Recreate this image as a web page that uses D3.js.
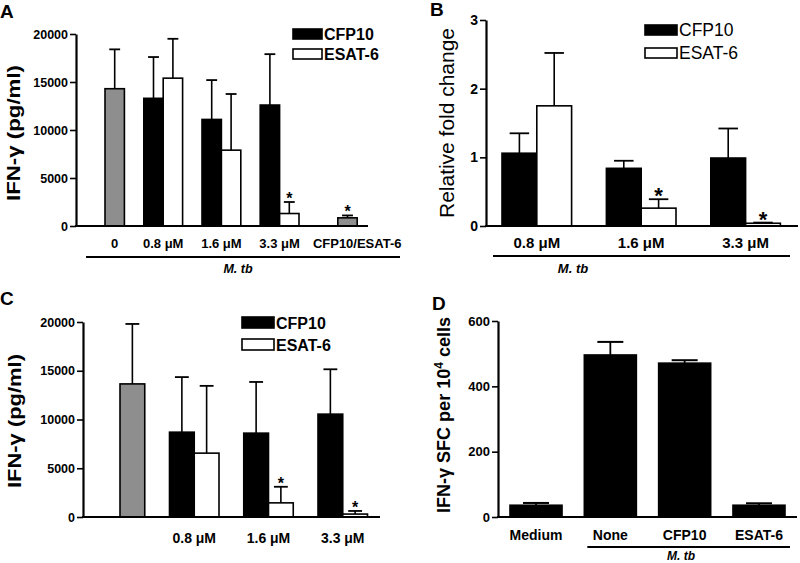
<!DOCTYPE html>
<html><head><meta charset="utf-8">
<script src="https://cdn.jsdelivr.net/npm/d3@7"></script>
<style>
body{margin:0;background:#fff}
svg{display:block}
text{font-family:"Liberation Sans",Arial,Helvetica,sans-serif;fill:#000}
</style>
</head><body>
<svg id="chart" width="800" height="563"></svg>
<script>
// ================= DATA =================
// Panel A – IFN-γ (pg/ml), mean and SD
const aGroups    = ["0", "0.8 μM", "1.6 μM", "3.3 μM", "CFP10/ESAT-6"];
const aControl   = [14300, null, null, null, 850];
const aControlSD = [4100, null, null, null, 250];
const aControlSig= [false, false, false, false, true];
const aCFP10     = [null, 13300, 11100, 12600, null];
const aCFP10SD   = [null, 4300, 4100, 5300, null];
const aESAT6     = [null, 15400, 7900, 1300, null];
const aESAT6SD   = [null, 4100, 5850, 1200, null];
const aESAT6Sig  = [false, false, false, true, false];
const aTicks     = [0, 5000, 10000, 15000, 20000];

// Panel B – relative fold change
const bGroups    = ["0.8 μM", "1.6 μM", "3.3 μM"];
const bCFP10     = [1.06, 0.84, 0.99];
const bCFP10SD   = [0.29, 0.11, 0.43];
const bESAT6     = [1.75, 0.26, 0.04];
const bESAT6SD   = [0.77, 0.13, 0.01];
const bESAT6Sig  = [false, true, true];
const bTicks     = [0, 1, 2, 3];

// Panel C – IFN-γ (pg/ml)
const cGroups    = ["", "0.8 μM", "1.6 μM", "3.3 μM"];
const cControl   = [13650, null, null, null];
const cControlSD = [6150, null, null, null];
const cCFP10     = [null, 8700, 8600, 10550];
const cCFP10SD   = [null, 5650, 5250, 4600];
const cESAT6     = [null, 6550, 1450, 300];
const cESAT6SD   = [null, 6900, 1650, 320];
const cESAT6Sig  = [false, false, true, true];
const cTicks     = [0, 5000, 10000, 15000, 20000];

// Panel D – IFN-γ SFC per 10^4 cells
const dGroups    = ["Medium", "None", "CFP10", "ESAT-6"];
const dValues    = [36, 496, 471, 36];
const dSD        = [7, 40, 9, 6];
const dTicks     = [0, 200, 400, 600];

const legendNames = ["CFP10", "ESAT-6"];
const FILL = {control: "#8e8e8e", CFP10: "#000000", ESAT6: "#ffffff"};

// ================= DRAW =================
const svg = d3.select("#chart");

function buildBars(groups, seriesList, groupStart) {
  const bars = [];
  groups.forEach((g, gi) => {
    let pos = 0;
    seriesList.forEach(s => {
      if (s.vals[gi] != null) {
        bars.push({group: g, gi, key: s.key, v: s.vals[gi], sd: s.sd[gi],
                   sig: s.sig ? s.sig[gi] : false, slot: groupStart[gi] + pos});
        pos++;
      }
    });
  });
  return bars;
}

function styleAxis(ax, font) {
  ax.select(".domain").attr("stroke", "#000").attr("stroke-width", 2.2);
  ax.selectAll(".tick line").attr("stroke", "#000").attr("stroke-width", 1.6);
  ax.selectAll(".tick text").attr("font-size", font).attr("font-weight", "bold")
    .attr("font-family", "'Liberation Sans',Arial,sans-serif").attr("fill", "#000");
}

function drawPanel(o) {
  const g = svg.append("g");
  const y = d3.scaleLinear().domain(o.yDomain).range(o.yRange);
  const x = d3.scaleBand().domain(d3.range(o.nSlots)).range(o.xRange).padding(0);
  const bw = x.bandwidth();

  const ax = g.append("g").attr("transform", `translate(${o.axisX},0)`)
    .call(d3.axisLeft(y).tickValues(o.ticks).tickSize(6).tickSizeOuter(0).tickPadding(2)
      .tickFormat(d3.format("d")));
  styleAxis(ax, o.tickFont);

  g.selectAll("rect.bar").data(o.bars).join("rect")
    .attr("x", d => x(d.slot)).attr("width", bw)
    .attr("y", d => y(d.v)).attr("height", d => y(0) - y(d.v))
    .attr("fill", d => FILL[d.key]).attr("stroke", "#000").attr("stroke-width", 1.6);

  const eg = g.selectAll("g.err").data(o.bars).join("g");
  eg.append("line")
    .attr("x1", d => x(d.slot) + bw / 2).attr("x2", d => x(d.slot) + bw / 2)
    .attr("y1", d => y(d.v)).attr("y2", d => y(d.v + d.sd))
    .attr("stroke", "#000").attr("stroke-width", 1.6);
  eg.append("line")
    .attr("x1", d => x(d.slot) + bw / 2 - bw * o.cap).attr("x2", d => x(d.slot) + bw / 2 + bw * o.cap)
    .attr("y1", d => y(d.v + d.sd)).attr("y2", d => y(d.v + d.sd))
    .attr("stroke", "#000").attr("stroke-width", 1.8);

  g.selectAll("text.star").data(o.bars.filter(d => d.sig)).join("text")
    .attr("x", d => x(d.slot) + bw / 2).attr("y", d => y(d.v + d.sd) + o.starDy)
    .attr("text-anchor", "middle").attr("font-size", o.starFont).attr("font-weight", "bold")
    .text("*");

  g.append("line").attr("x1", o.axisX - 1).attr("x2", o.xEnd)
    .attr("y1", y(0)).attr("y2", y(0)).attr("stroke", "#000").attr("stroke-width", 2.2);

  g.selectAll("text.cat").data(o.labels).join("text")
    .attr("x", d => d.cx(x, bw)).attr("y", o.labelY)
    .attr("text-anchor", "middle").attr("font-size", o.labelFont).attr("font-weight", "bold")
    .text(d => d.text);

  if (o.bracket) {
    g.append("line").attr("x1", o.bracket.x1).attr("x2", o.bracket.x2)
      .attr("y1", o.bracket.y).attr("y2", o.bracket.y).attr("stroke", "#000").attr("stroke-width", 2);
    g.append("text").attr("x", o.bracket.tx).attr("y", o.bracket.ty)
      .attr("text-anchor", "middle").attr("font-size", o.bracket.font)
      .attr("font-weight", "bold").attr("font-style", "italic").text("M. tb");
  }

  if (o.legend) {
    const L = o.legend;
    legendNames.forEach((n, i) => {
      g.append("rect").attr("x", L.x).attr("y", L.y[i]).attr("width", L.w).attr("height", L.h)
        .attr("fill", i === 0 ? FILL.CFP10 : FILL.ESAT6).attr("stroke", "#000").attr("stroke-width", 1.6);
      g.append("text").attr("x", L.x + L.w + 2).attr("y", L.y[i] + L.h + 0.5)
        .attr("font-size", L.font).attr("font-weight", L.weight).text(n);
    });
  }

  const t = g.append("text")
    .attr("transform", `translate(${o.title.x},${o.title.y}) rotate(-90)`)
    .attr("text-anchor", "middle").attr("font-size", o.title.font)
    .attr("font-weight", o.title.weight)
    .attr("textLength", o.title.len).attr("lengthAdjust", "spacingAndGlyphs")
    .text(o.title.text);

  g.append("text").attr("x", o.letter.x).attr("y", o.letter.y)
    .attr("font-size", 19).attr("font-weight", "bold").text(o.letter.t);
}

function groupLabels(groups, groupStart, groupSlots) {
  return groups.map((g, i) => ({
    text: g,
    cx: (x, bw) => x(groupStart[i]) + bw * groupSlots[i] / 2
  })).filter(d => d.text !== "");
}

// ---------- Panel A ----------
{
  const start = [0, 2, 5, 8, 12], span = [1, 2, 2, 2, 2];
  const bars = buildBars(aGroups, [
    {key: "control", vals: aControl, sd: aControlSD, sig: aControlSig},
    {key: "CFP10", vals: aCFP10, sd: aCFP10SD},
    {key: "ESAT6", vals: aESAT6, sd: aESAT6SD, sig: aESAT6Sig}
  ], start);
  drawPanel({
    yDomain: [0, 20000], yRange: [226, 34], ticks: aTicks, tickFont: 12.5,
    nSlots: 14, xRange: [105, 105 + 14 * 19.4], axisX: 76, xEnd: 368,
    bars, cap: 0.28, starFont: 16, starDy: 2,
    labels: groupLabels(aGroups, start, span), labelY: 248, labelFont: 13,
    bracket: {x1: 86, x2: 400, y: 257, tx: 238, ty: 273, font: 12.5},
    legend: {x: 293, y: [29, 49], w: 29, h: 10, font: 16, weight: "bold"},
    title: {x: 20, y: 133, font: 19, weight: "bold", len: 136, text: "IFN-γ (pg/ml)"},
    letter: {x: 0, y: 18, t: "A"}
  });
}

// ---------- Panel B ----------
{
  const start = [0, 3, 6], span = [2, 2, 2];
  const bars = buildBars(bGroups, [
    {key: "CFP10", vals: bCFP10, sd: bCFP10SD},
    {key: "ESAT6", vals: bESAT6, sd: bESAT6SD, sig: bESAT6Sig}
  ], start);
  drawPanel({
    yDomain: [0, 3], yRange: [226, 20], ticks: bTicks, tickFont: 14,
    nSlots: 8, xRange: [502, 502 + 8 * 34.8], axisX: 486, xEnd: 798,
    bars, cap: 0.28, starFont: 22, starDy: 4,
    labels: groupLabels(bGroups, start, span), labelY: 248, labelFont: 15,
    bracket: {x1: 493, x2: 790, y: 256, tx: 573, ty: 273, font: 13},
    legend: {x: 645, y: [25, 48], w: 32, h: 10, font: 17.5, weight: "normal"},
    title: {x: 454, y: 123, font: 20, weight: "normal", len: 190, text: "Relative fold change"},
    letter: {x: 430, y: 16, t: "B"}
  });
}

// ---------- Panel C ----------
{
  const start = [0, 2, 5, 8], span = [1, 2, 2, 2];
  const bars = buildBars(cGroups, [
    {key: "control", vals: cControl, sd: cControlSD},
    {key: "CFP10", vals: cCFP10, sd: cCFP10SD},
    {key: "ESAT6", vals: cESAT6, sd: cESAT6SD, sig: cESAT6Sig}
  ], start);
  drawPanel({
    yDomain: [0, 20000], yRange: [517, 322], ticks: cTicks, tickFont: 12.5,
    nSlots: 10, xRange: [120, 120 + 10 * 24.75], axisX: 83, xEnd: 380,
    bars, cap: 0.28, starFont: 16, starDy: 2,
    labels: groupLabels(cGroups, start, span), labelY: 543, labelFont: 14,
    bracket: null,
    legend: {x: 242, y: [317, 339], w: 32, h: 11, font: 16, weight: "bold"},
    title: {x: 21, y: 421, font: 19, weight: "bold", len: 134, text: "IFN-γ (pg/ml)"},
    letter: {x: 0, y: 305, t: "C"}
  });
}

// ---------- Panel D ----------
{
  const bars = dGroups.map((g, i) => ({group: g, gi: i, v: dValues[i], sd: dSD[i], slot: i}));
  const xD = d3.scaleBand().domain(d3.range(dGroups.length)).range([510, 785]).paddingInner(0.3).paddingOuter(0);
  const yD = d3.scaleLinear().domain([0, 600]).range([517, 321]);
  const bw = xD.bandwidth();
  const g = svg.append("g");
  const ax = g.append("g").attr("transform", "translate(498,0)")
    .call(d3.axisLeft(yD).tickValues(dTicks).tickSize(6).tickSizeOuter(0).tickPadding(2).tickFormat(d3.format("d")));
  styleAxis(ax, 13);
  g.selectAll("rect.bar").data(bars).join("rect")
    .attr("x", d => xD(d.slot)).attr("width", bw)
    .attr("y", d => yD(d.v)).attr("height", d => yD(0) - yD(d.v))
    .attr("fill", "#000").attr("stroke", "#000").attr("stroke-width", 1.6);
  const eg = g.selectAll("g.err").data(bars).join("g");
  eg.append("line")
    .attr("x1", d => xD(d.slot) + bw / 2).attr("x2", d => xD(d.slot) + bw / 2)
    .attr("y1", d => yD(d.v)).attr("y2", d => yD(d.v + d.sd)).attr("stroke", "#000").attr("stroke-width", 1.8);
  eg.append("line")
    .attr("x1", d => xD(d.slot) + bw * 0.25).attr("x2", d => xD(d.slot) + bw * 0.75)
    .attr("y1", d => yD(d.v + d.sd)).attr("y2", d => yD(d.v + d.sd)).attr("stroke", "#000").attr("stroke-width", 2);
  g.append("line").attr("x1", 497).attr("x2", 797).attr("y1", yD(0)).attr("y2", yD(0))
    .attr("stroke", "#000").attr("stroke-width", 2.2);
  g.selectAll("text.cat").data(dGroups).join("text")
    .attr("x", (d, i) => xD(i) + bw / 2).attr("y", 540).attr("text-anchor", "middle")
    .attr("font-size", 14).attr("font-weight", "bold").text(d => d);
  g.append("line").attr("x1", xD(1) + 3).attr("x2", xD(3) + bw + 5).attr("y1", 547).attr("y2", 547)
    .attr("stroke", "#000").attr("stroke-width", 2);
  g.append("text").attr("x", 681).attr("y", 560).attr("text-anchor", "middle")
    .attr("font-size", 12).attr("font-weight", "bold").attr("font-style", "italic").text("M. tb");
  const t = g.append("text").attr("transform", "translate(450,415) rotate(-90)")
    .attr("text-anchor", "middle").attr("font-size", 18).attr("font-weight", "bold")
    .attr("textLength", 196).attr("lengthAdjust", "spacingAndGlyphs");
  t.append("tspan").text("IFN-γ SFC per 10");
  t.append("tspan").attr("dy", -7).attr("font-size", 12).text("4");
  t.append("tspan").attr("dy", 7).text(" cells");
  g.append("text").attr("x", 432).attr("y", 310).attr("font-size", 19).attr("font-weight", "bold").text("D");
}
</script>
</body></html>
